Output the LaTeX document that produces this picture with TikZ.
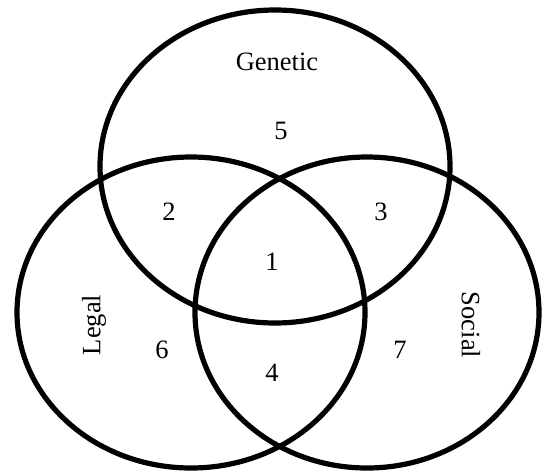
\documentclass[tikz,border=0pt]{standalone}
\usepackage{fontspec}
\setmainfont{Liberation Serif}

\begin{document}
\begin{tikzpicture}[
    x=1pt, y=-1pt,
    vennset/.style={draw=black, line width=5.2pt},
    setlabel/.style={font=\fontsize{26.5}{31}\selectfont},
    region/.style={font=\fontsize{26.5}{31}\selectfont}
]
    \useasboundingbox (0,0) rectangle (543,474);

    % --- THE THREE SETS ---
    \draw[vennset] (275,166.5) ellipse [x radius=175, y radius=156.5];
    \draw[vennset] (191,312.5) ellipse [x radius=174, y radius=155.5];
    \draw[vennset] (367,312.5) ellipse [x radius=172, y radius=155.5];

    % --- SET NAMES ---
    \node[setlabel] (genetic) at (277,62) {Genetic};
    \node[setlabel, rotate=90] (legal) at (94,325) {Legal};
    \node[setlabel, rotate=-90] (social) at (471,325) {Social};

    % --- REGION NUMBERS ---
    \node[region] (r1) at (272,262) {1};
    \node[region] (r2) at (169,212) {2};
    \node[region] (r3) at (381,212) {3};
    \node[region] (r4) at (272,373) {4};
    \node[region] (r5) at (281,131) {5};
    \node[region] (r6) at (162,350) {6};
    \node[region] (r7) at (400,350) {7};
\end{tikzpicture}
\end{document}
